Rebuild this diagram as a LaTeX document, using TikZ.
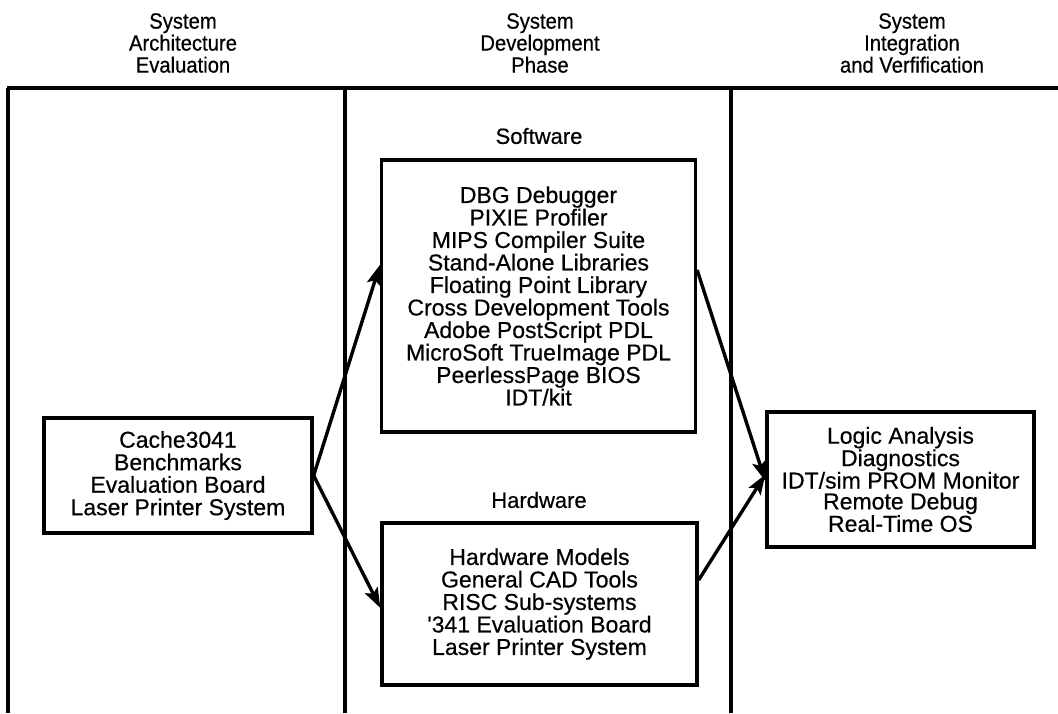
\documentclass[tikz,border=0pt]{standalone}
\usepackage{fontspec}
\setmainfont[FakeBold=0.5]{Liberation Sans}
\newfontfamily\hdrfont[FakeStretch=0.92,FakeBold=0.5]{Liberation Sans}
\usetikzlibrary{arrows.meta,calc}
\begin{document}
\begin{tikzpicture}[x=1pt,y=-1pt,
  frameline/.style={line width=3.3pt},
  box/.style={draw,line width=3.3pt,inner sep=0pt,align=center,
    font=\fontsize{23}{22.5}\selectfont},
  hdr/.style={align=center,inner sep=0pt,font=\hdrfont\fontsize{22}{22}\selectfont},
  sublabel/.style={inner sep=0pt,font=\fontsize{22}{22}\selectfont},
  flow/.style={line width=3.4pt,-{Stealth[length=20pt,width=14pt,inset=4pt]}}
]
\useasboundingbox (0,0) rectangle (1058,713);
% frame
\coordinate (tl) at (7,88);
\coordinate (tr) at (1058,88);
\coordinate (b1) at (8,713);
\coordinate (t1) at (8,88);
\coordinate (b2) at (345,713);
\coordinate (t2) at (345,88);
\coordinate (b3) at (731,713);
\coordinate (t3) at (731,88);
\draw[frameline] (tl) -- (tr);
\draw[frameline] (t1) -- (b1);
\draw[frameline] (t2) -- (b2);
\draw[frameline] (t3) -- (b3);
% headers
\node[hdr] (h1) at (183,43) {System\\Architecture\\Evaluation};
\node[hdr] (h2) at (540,43) {System\\Development\\Phase};
\node[hdr] (h3) at (912,43) {System\\Integration\\and Verfification};
% boxes
\node[box,minimum width=268pt,minimum height=115pt] (eval) at (178,475.5)
  {Cache3041\\Benchmarks\\Evaluation Board\\Laser Printer System};
\node[sublabel] (swl) at (539,136) {Software};
\node[box,minimum width=314pt,minimum height=272pt] (sw) at (538.5,296)
  {DBG Debugger\\PIXIE Profiler\\MIPS Compiler Suite\\Stand-Alone Libraries\\Floating Point Library\\Cross Development Tools\\Adobe PostScript PDL\\MicroSoft TrueImage PDL\\PeerlessPage BIOS\\IDT/kit};
\node[sublabel] (hwl) at (539,500) {Hardware};
\node[box,minimum width=315pt,minimum height=162pt] (hw) at (539.5,604)
  {Hardware Models\\General CAD Tools\\RISC Sub-systems\\\textquotesingle341 Evaluation Board\\Laser Printer System};
\node[box,minimum width=267pt,minimum height=135pt,
  font=\fontsize{23}{20.8}\selectfont] (sim) at (900.5,479.5)
  {Logic Analysis\\Diagnostics\\IDT/sim PROM Monitor\\Remote Debug\\Real-Time OS};
% connectors
\coordinate (s0) at (eval.east);
\draw[flow] (s0) -- ([yshift=31pt]sw.west);
\draw[flow] (s0) -- ([yshift=-4pt]hw.west);
\draw[flow] ([yshift=26pt]sw.east) -- ([yshift=-1.5pt]sim.west);
\draw[flow] ([yshift=24pt]hw.east) -- ([yshift=5pt]sim.west);
\end{tikzpicture}
\end{document}
